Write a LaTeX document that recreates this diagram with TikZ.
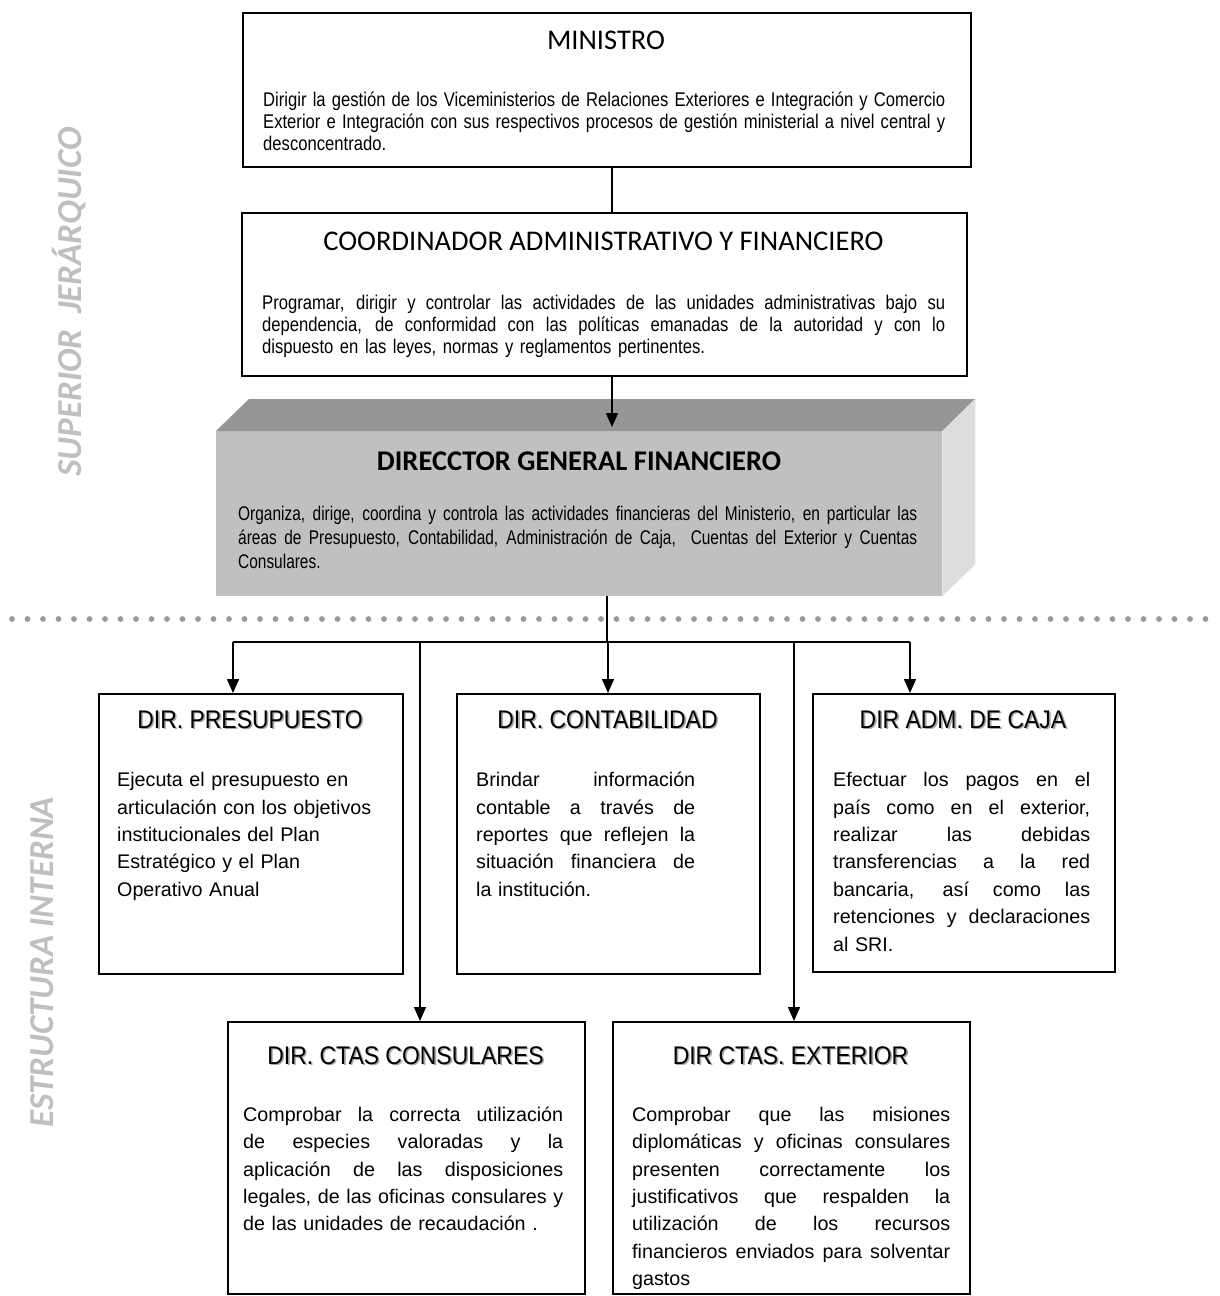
\documentclass[tikz,border=0pt]{standalone}
\usepackage{fontspec}
\setmainfont{Liberation Sans}
\newfontfamily\narrowtop[FakeStretch=0.84]{Liberation Sans}
\newfontfamily\narrowdg[FakeStretch=0.78]{Liberation Sans}
\newfontfamily\narrowhead[FakeStretch=0.9]{Liberation Sans}
\newfontfamily\calibri{Carlito}
\usetikzlibrary{arrows.meta}
\definecolor{sidegray}{HTML}{BFBFBF}
\definecolor{dotgray}{HTML}{9A9A9A}
\definecolor{cubefront}{HTML}{C0C0C0}
\definecolor{cubetop}{HTML}{969696}
\definecolor{cubeside}{HTML}{DDDDDD}
\definecolor{shadowgray}{HTML}{A6A6A6}
% heading with a soft drop shadow
\newcommand\shadowed[1]{\makebox[0pt][l]{\kern1.6pt\raisebox{-1.6pt}{\textcolor{shadowgray}{#1}}}#1}
% one fully justified line (interword glue free to stretch)
\newcommand\jline[1]{\hbox to \hsize{\spaceskip=0pt\xspaceskip=0pt\relax #1}}

\begin{document}
\begin{tikzpicture}[x=1pt,y=-1pt,
  box/.style={draw=black, line width=1.5pt, fill=white, anchor=north west, inner sep=0pt},
  body/.style={anchor=north west, inner sep=0pt, align=left},
  conn/.style={line width=1.5pt},
  arr/.style={conn, -{Triangle[length=14pt,width=12pt]}},
  toptitle/.style={anchor=base, inner sep=0pt, font=\calibri\fontsize{28.5}{31}\selectfont},
  subtitle/.style={anchor=base, inner sep=0pt, font=\narrowhead\fontsize{25.5}{28}\selectfont},
  topbody/.style={body, font=\narrowtop\fontsize{19.8}{22}\selectfont},
  lowbody/.style={body, font=\fontsize{19.7}{27.4}\selectfont},
  side/.style={anchor=base, inner sep=0pt, rotate=90, text=sidegray,
    font=\calibri\bfseries\itshape\fontsize{35}{40}\selectfont}
]
\useasboundingbox (0,0) rectangle (1219,1296);
\fill[white] (0,0) rectangle (1219,1296);

% side captions
\node[side] (supcap) at (81,302) {SUPERIOR\ \ JERÁRQUICO};
\node[side] (intcap) at (53,962) {ESTRUCTURA INTERNA};

% separator between the two levels
\foreach \i in {0,...,77}
  \fill[dotgray] ({12+15.5*\i},619) circle (2.9pt);

% ---- upper level ----
\node[box, minimum width=728pt, minimum height=154pt] (min) at (242,12) {};
\node[toptitle] (mint) at (606,49) {MINISTRO};
\node[topbody, text width=682pt] (minb) at (263,90.6) {%
\jline{\strut Dirigir la gestión de los Viceministerios de Relaciones Exteriores e Integración y Comercio}
\jline{Exterior e Integración con sus respectivos procesos de gestión ministerial a nivel central y}
\hbox{desconcentrado.}};

\node[box, minimum width=725pt, minimum height=163pt] (coord) at (241,212) {};
\node[toptitle] (coordt) at (603.5,250) {COORDINADOR ADMINISTRATIVO Y FINANCIERO};
\node[topbody, text width=683pt] (coordb) at (262,293.6) {%
\jline{\strut Programar, dirigir y controlar las actividades de las unidades administrativas bajo su}
\jline{dependencia, de conformidad con las políticas emanadas de la autoridad y con lo}
\hbox{dispuesto en las leyes, normas y reglamentos pertinentes.}};

% director general: block with top and side faces
\node[fill=cubefront, anchor=north west, inner sep=0pt,
      minimum width=726pt, minimum height=165pt] (dgf) at (216,431) {};
\fill[cubetop] (dgf.north west) -- ++(33,-32) -- ++(726,0) -- (dgf.north east) -- cycle;
\fill[cubeside] (dgf.north east) -- ++(33,-32) -- ++(0,165) -- (dgf.south east) -- cycle;
\node[anchor=base, inner sep=0pt, font=\calibri\bfseries\fontsize{28.5}{31}\selectfont]
  (dgft) at (579,470) {DIRECCTOR GENERAL FINANCIERO};
\node[body, font=\narrowdg\fontsize{19.8}{24}\selectfont, text width=679pt] (dgfb) at (238,503.2) {%
\jline{\strut Organiza, dirige, coordina y controla las actividades financieras del Ministerio, en particular las}
\jline{áreas de Presupuesto, Contabilidad, Administración de Caja,\ \ Cuentas del Exterior y Cuentas}
\hbox{Consulares.}};

% ---- internal structure ----
\node[box, minimum width=304pt, minimum height=280pt] (pres) at (98,693) {};
\node[subtitle] (prest) at (250,728) {\shadowed{DIR. PRESUPUESTO}};
\node[lowbody, text width=270pt] (presb) at (117,767.3) {%
\strut Ejecuta el presupuesto en\\
articulación con los objetivos\\
institucionales del Plan\\
Estratégico y el Plan\\
Operativo Anual};

\node[box, minimum width=303pt, minimum height=280pt] (cont) at (456,693) {};
\node[subtitle] (contt) at (607.5,728) {\shadowed{DIR. CONTABILIDAD}};
\node[lowbody, text width=219pt] (contb) at (476,767.3) {%
\jline{\strut Brindar información}
\jline{contable a través de}
\jline{reportes que reflejen la}
\jline{situación financiera de}
\hbox{la institución.}};

\node[box, minimum width=302pt, minimum height=278pt] (caja) at (812,693) {};
\node[subtitle] (cajat) at (963,728) {\shadowed{DIR ADM. DE CAJA}};
\node[lowbody, text width=257pt] (cajab) at (833,767.3) {%
\jline{\strut Efectuar los pagos en el}
\jline{país como en el exterior,}
\jline{realizar las debidas}
\jline{transferencias a la red}
\jline{bancaria, así como las}
\jline{retenciones y declaraciones}
\hbox{al SRI.}};

\node[box, minimum width=357pt, minimum height=272pt] (cons) at (227,1021) {};
\node[subtitle] (const) at (405.5,1064) {\shadowed{DIR. CTAS CONSULARES}};
\node[lowbody, text width=320pt] (consb) at (243,1101.9) {%
\jline{\strut Comprobar la correcta utilización}
\jline{de especies valoradas y la}
\jline{aplicación de las disposiciones}
\jline{legales, de las oficinas consulares y}
\hbox{de las unidades de recaudación .}};

\node[box, minimum width=357pt, minimum height=272pt] (ext) at (612,1021) {};
\node[subtitle] (extt) at (790.5,1064) {\shadowed{DIR CTAS. EXTERIOR}};
\node[lowbody, text width=318pt] (extb) at (632,1101.9) {%
\jline{\strut Comprobar que las misiones}
\jline{diplomáticas y oficinas consulares}
\jline{presenten correctamente los}
\jline{justificativos que respalden la}
\jline{utilización de los recursos}
\jline{financieros enviados para solventar}
\hbox{gastos}};

% ---- connectors ----
\coordinate (cx) at (612,0);
\draw[conn] (cx |- min.south) -- (cx |- coord.north);
\draw[arr, shorten >=4pt] (cx |- coord.south) -- (cx |- dgf.north);

\coordinate (hub) at (607,642);
\coordinate (bPres) at (233,642);
\coordinate (bCons) at (420,642);
\coordinate (bCont) at (608,642);
\coordinate (bExt) at (794,642);
\coordinate (bCaja) at (910,642);
\draw[conn] (hub |- dgf.south) -- (hub);
\draw[conn] (bPres) -- (bCaja);
\draw[arr] (bPres) -- (bPres |- pres.north);
\draw[arr] (bCont) -- (bCont |- cont.north);
\draw[arr] (bCaja) -- (bCaja |- caja.north);
\draw[arr] (bCons) -- (bCons |- cons.north);
\draw[arr] (bExt) -- (bExt |- ext.north);
\end{tikzpicture}
\end{document}
